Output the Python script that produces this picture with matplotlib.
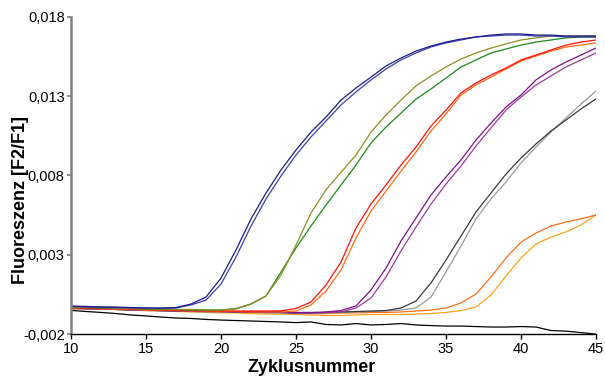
import matplotlib
matplotlib.use("Agg")
import matplotlib.pyplot as plt
import numpy as np

plt.rcParams['font.family'] = ['Liberation Sans', 'DejaVu Sans']

cycles = list(range(10, 46))

blue1 = [-0.00023, -0.00026, -0.00030, -0.00030, -0.00033, -0.00036, -0.00036, -0.00033, -0.00011, 0.00033,
         0.00153, 0.00330, 0.00526, 0.00690, 0.00835, 0.00961, 0.01074, 0.01169, 0.01276, 0.01352,
         0.01421, 0.01491, 0.01541, 0.01585, 0.01617, 0.01642, 0.01661, 0.01674, 0.01686, 0.01693,
         0.01693, 0.01686, 0.01686, 0.01680, 0.01680, 0.01680]
blue2 = [-0.00026, -0.00030, -0.00030, -0.00033, -0.00036, -0.00036, -0.00039, -0.00036, -0.00017, 0.00014,
         0.00115, 0.00286, 0.00481, 0.00652, 0.00797, 0.00929, 0.01043, 0.01144, 0.01245, 0.01327,
         0.01403, 0.01472, 0.01529, 0.01573, 0.01611, 0.01636, 0.01655, 0.01674, 0.01680, 0.01686,
         0.01686, 0.01680, 0.01680, 0.01674, 0.01674, 0.01674]
olive = [-0.00030, -0.00030, -0.00033, -0.00036, -0.00039, -0.00042, -0.00042, -0.00045, -0.00045, -0.00049,
         -0.00049, -0.00042, -0.00011, 0.00040, 0.00172, 0.00361, 0.00563, 0.00710, 0.00820, 0.00929,
         0.01074, 0.01182, 0.01276, 0.01365, 0.01428, 0.01485, 0.01535, 0.01573, 0.01604, 0.01630,
         0.01655, 0.01668, 0.01680, 0.01680, 0.01680, 0.01680]
green = [-0.00033, -0.00033, -0.00036, -0.00036, -0.00039, -0.00042, -0.00045, -0.00045, -0.00049, -0.00049,
         -0.00049, -0.00039, -0.00011, 0.00040, 0.00191, 0.00343, 0.00481, 0.00614, 0.00740, 0.00866,
         0.01005, 0.01106, 0.01194, 0.01282, 0.01346, 0.01415, 0.01485, 0.01529, 0.01573, 0.01598,
         0.01623, 0.01642, 0.01655, 0.01668, 0.01674, 0.01674]
red = [-0.00036, -0.00036, -0.00039, -0.00039, -0.00042, -0.00045, -0.00049, -0.00049, -0.00052, -0.00052,
       -0.00055, -0.00055, -0.00055, -0.00055, -0.00054, -0.00039, 0.00002, 0.00109, 0.00254, 0.00469,
       0.00620, 0.00740, 0.00866, 0.00980, 0.01112, 0.01213, 0.01321, 0.01384, 0.01434, 0.01478,
       0.01529, 0.01560, 0.01592, 0.01623, 0.01642, 0.01655]
orangered = [-0.00039, -0.00039, -0.00042, -0.00042, -0.00045, -0.00049, -0.00049, -0.00052, -0.00055, -0.00055,
             -0.00058, -0.00058, -0.00061, -0.00061, -0.00061, -0.00055, -0.00017, 0.00071, 0.00204, 0.00406,
             0.00576, 0.00702, 0.00828, 0.00948, 0.01081, 0.01188, 0.01308, 0.01371, 0.01421, 0.01472,
             0.01522, 0.01554, 0.01585, 0.01611, 0.01623, 0.01636]
purple1 = [-0.00036, -0.00039, -0.00042, -0.00042, -0.00045, -0.00049, -0.00049, -0.00052, -0.00055, -0.00055,
           -0.00058, -0.00058, -0.00061, -0.00061, -0.00061, -0.00064, -0.00064, -0.00061, -0.00052, -0.00023,
           0.00078, 0.00216, 0.00387, 0.00532, 0.00677, 0.00791, 0.00898, 0.01024, 0.01131, 0.01232,
           0.01308, 0.01403, 0.01466, 0.01516, 0.01560, 0.01604]
purple2 = [-0.00039, -0.00042, -0.00042, -0.00045, -0.00049, -0.00049, -0.00052, -0.00055, -0.00055, -0.00058,
           -0.00058, -0.00061, -0.00061, -0.00064, -0.00064, -0.00067, -0.00067, -0.00064, -0.00061, -0.00036,
           0.00027, 0.00160, 0.00324, 0.00475, 0.00620, 0.00746, 0.00860, 0.00986, 0.01100, 0.01213,
           0.01295, 0.01371, 0.01428, 0.01485, 0.01529, 0.01573]
darkgray = [-0.00036, -0.00039, -0.00042, -0.00045, -0.00049, -0.00049, -0.00052, -0.00055, -0.00055, -0.00058,
            -0.00058, -0.00061, -0.00061, -0.00064, -0.00064, -0.00067, -0.00067, -0.00064, -0.00061, -0.00058,
            -0.00055, -0.00052, -0.00036, 0.00008, 0.00122, 0.00267, 0.00418, 0.00570, 0.00690, 0.00809,
            0.00910, 0.00999, 0.01081, 0.01150, 0.01220, 0.01283]
lightgray = [-0.00039, -0.00042, -0.00042, -0.00045, -0.00049, -0.00052, -0.00055, -0.00055, -0.00058, -0.00061,
             -0.00061, -0.00064, -0.00064, -0.00067, -0.00067, -0.00071, -0.00071, -0.00067, -0.00064, -0.00061,
             -0.00058, -0.00055, -0.00049, -0.00036, 0.00033, 0.00191, 0.00355, 0.00526, 0.00652, 0.00759,
             0.00879, 0.00980, 0.01074, 0.01163, 0.01251, 0.01333]
orange1 = [-0.00036, -0.00039, -0.00039, -0.00042, -0.00045, -0.00049, -0.00052, -0.00052, -0.00055, -0.00055,
           -0.00058, -0.00061, -0.00061, -0.00064, -0.00064, -0.00067, -0.00071, -0.00071, -0.00067, -0.00067,
           -0.00064, -0.00064, -0.00061, -0.00055, -0.00049, -0.00036, -0.00004, 0.00052, 0.00160, 0.00280,
           0.00380, 0.00437, 0.00481, 0.00507, 0.00526, 0.00551]
orange2 = [-0.00039, -0.00042, -0.00042, -0.00045, -0.00049, -0.00052, -0.00055, -0.00058, -0.00061, -0.00064,
           -0.00067, -0.00067, -0.00071, -0.00074, -0.00074, -0.00077, -0.00080, -0.00083, -0.00083, -0.00080,
           -0.00077, -0.00077, -0.00077, -0.00074, -0.00071, -0.00064, -0.00052, -0.00030, 0.00046, 0.00166,
           0.00280, 0.00368, 0.00412, 0.00444, 0.00488, 0.00551]
negative = [-0.00051, -0.00058, -0.00064, -0.00071, -0.00080, -0.00086, -0.00093, -0.00099, -0.00102, -0.00108,
            -0.00112, -0.00115, -0.00118, -0.00121, -0.00124, -0.00128, -0.00124, -0.00140, -0.00143, -0.00134,
            -0.00143, -0.00140, -0.00134, -0.00143, -0.00147, -0.00150, -0.00150, -0.00153, -0.00156, -0.00156,
            -0.00153, -0.00156, -0.00178, -0.00182, -0.00191, -0.00201]

series = [
    (orange2, '#ffa31a'), (orange1, '#ff6f1a'),
    (lightgray, '#9a9a9a'), (darkgray, '#3a3a3a'),
    (purple2, '#9c3c9c'), (purple1, '#80108a'),
    (orangered, '#ff6a10'), (red, '#ff1010'),
    (green, '#1a8c1a'), (olive, '#8f8f22'),
    (blue2, '#4040b0'), (blue1, '#1c1c8c'),
    (negative, '#000000'),
]

yticks = [-0.002, 0.003, 0.008, 0.013, 0.018]
ytick_labels = ['-0,002', '0,003', '0,008', '0,013', '0,018']
xticks = [10, 15, 20, 25, 30, 35, 40, 45]

fig = plt.figure(figsize=(6.05, 3.8), dpi=100)
ax = fig.add_axes([71/605, 46/380, 525/605, 317/380])

for vals, col in series:
    ax.plot(cycles, vals, color=col, lw=0.9, solid_joinstyle='round')

ax.set_xlim(10, 45)
ax.set_ylim(-0.002, 0.018)
ax.set_xticks(xticks)
ax.set_xticklabels([str(t) for t in xticks], fontsize=10.5)
ax.set_yticks(yticks)
ax.set_yticklabels(ytick_labels, fontsize=10.5)

ax.spines['top'].set_visible(False)
ax.spines['right'].set_visible(False)
ax.spines['left'].set_color('#808080')
ax.spines['left'].set_linewidth(1.8)
ax.spines['bottom'].set_color('black')
ax.spines['bottom'].set_linewidth(1.0)
ax.tick_params(axis='y', direction='out', length=3, width=1.2, color='#808080', pad=1.5)
ax.tick_params(axis='x', direction='out', length=3.5, width=1.0, color='black', pad=2)

fig.text(312/605, 1 - 368/380, 'Zyklusnummer', fontsize=13, fontweight='bold',
         ha='center', va='center')
fig.text(21/605, 1 - 200/380, 'Fluoreszenz [F2/F1]', fontsize=13, fontweight='bold',
         ha='center', va='center', rotation=90)

fig.savefig('out.png', dpi=100)
